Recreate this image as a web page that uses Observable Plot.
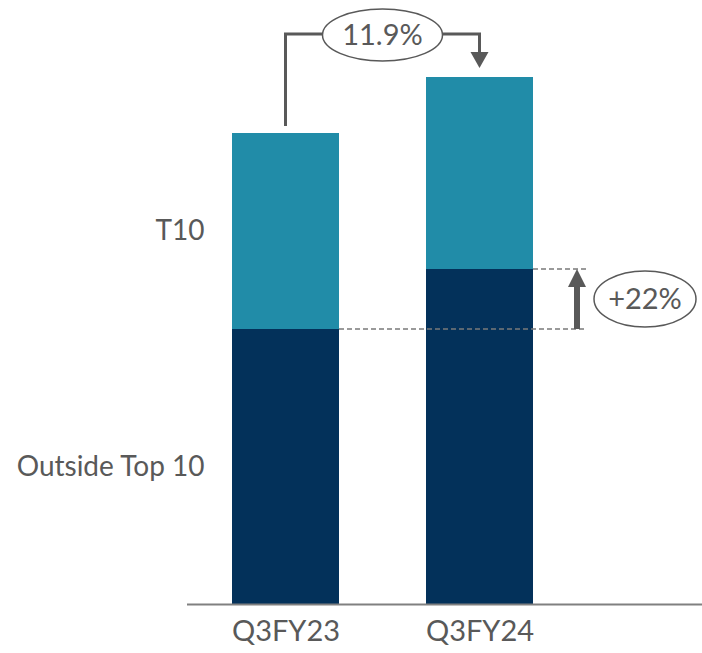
<!DOCTYPE html>
<html>
<head>
<meta charset="utf-8">
<script src="https://cdn.jsdelivr.net/npm/d3@7"></script>
<script src="https://cdn.jsdelivr.net/npm/@observablehq/plot@0.6"></script>
<style>
  html, body { margin: 0; padding: 0; background: #fff; }
  #chart svg { display: block; }
</style>
</head>
<body>
<div id="chart"></div>
<script>
// ---- data (relative units) ----
const periods = ["Q3FY23", "Q3FY24"];
const segments = ["Outside Top 10", "T10"];
const outsideTop10 = [275, 335];
const t10 = [196, 192];
const totalGrowthLabel = "11.9%";
const outsideGrowthLabel = "+22%";

const rows = [];
periods.forEach((p, i) => {
  rows.push({period: p, segment: segments[0], value: outsideTop10[i]});
  rows.push({period: p, segment: segments[1], value: t10[i]});
});
const totals = periods.map((p, i) => outsideTop10[i] + t10[i]);

const textColor = "#595959";
const fontFamily = "Lato, 'Open Sans', sans-serif";

const labelRows = [
  {segment: segments[1], y: outsideTop10[0] + t10[0] / 2},
  {segment: segments[0], y: outsideTop10[0] / 2}
];

const plot = Plot.plot({
  width: 702,
  height: 653,
  marginLeft: 187,
  marginRight: 0,
  marginTop: 0,
  marginBottom: 49,
  style: {fontFamily, color: textColor, background: "#fff"},
  x: {domain: periods, range: [231, 534], paddingInner: 0.446, paddingOuter: 0},
  y: {domain: [0, 604], axis: null},
  color: {domain: segments, range: ["#03315A", "#218CA8"]},
  marks: [
    Plot.barY(rows, {x: "period", y: "value", fill: "segment", order: segments, inset: 0}),
    Plot.ruleY([0], {stroke: "#808080", strokeWidth: 2}),
    Plot.text(labelRows, {y: "y", text: "segment", frameAnchor: "left", textAnchor: "end", dx: 17, fontSize: 28, fill: textColor}),
    Plot.axisX({tickSize: 0, tickPadding: 16, fontSize: 29, fill: textColor, label: null})
  ]
});

document.getElementById("chart").appendChild(plot);

// ---- annotations derived from the chart scales ----
const xs = plot.scale("x");
const ys = plot.scale("y");
const bw = xs.bandwidth;
const svg = d3.select(plot);
const xc = periods.map(p => xs.apply(p) + bw / 2);
const xr = periods.map(p => xs.apply(p) + bw);
const yTop = totals.map(v => ys.apply(v));
const yDark = outsideTop10.map(v => ys.apply(v));

const g = svg.append("g");
// dashed guides
const dashEnd = xr[1] + 53;
g.append("line").attr("x1", xr[0]).attr("x2", dashEnd).attr("y1", yDark[0]).attr("y2", yDark[0])
  .attr("stroke", "#7a7a7a").attr("stroke-width", 1.5).attr("stroke-dasharray", "5,3");
g.append("line").attr("x1", xr[1]).attr("x2", dashEnd).attr("y1", yDark[1]).attr("y2", yDark[1])
  .attr("stroke", "#7a7a7a").attr("stroke-width", 1.5).attr("stroke-dasharray", "5,3");

// total growth connector
const yH = yTop[1] - 43;
const ecx = (xc[0] + xc[1]) / 2, ecy = yH + 1, erx = 60, ery = 26;
g.append("path")
  .attr("d", `M${xc[0]},${yTop[0] - 7}V${yH}H${ecx - erx}`)
  .attr("fill", "none").attr("stroke", textColor).attr("stroke-width", 3);
g.append("path")
  .attr("d", `M${ecx + erx},${yH}H${xc[1]}V${yTop[1] - 24}`)
  .attr("fill", "none").attr("stroke", textColor).attr("stroke-width", 3);
g.append("path")
  .attr("d", `M${xc[1] - 9},${yTop[1] - 25}L${xc[1] + 9},${yTop[1] - 25}L${xc[1]},${yTop[1] - 9}Z`)
  .attr("fill", textColor);
g.append("ellipse").attr("cx", ecx).attr("cy", ecy).attr("rx", erx).attr("ry", ery)
  .attr("fill", "#fff").attr("stroke", textColor).attr("stroke-width", 1.5);
g.append("text").attr("x", ecx).attr("y", ecy).attr("dy", "0.35em").attr("text-anchor", "middle")
  .attr("font-family", fontFamily).attr("font-size", 29).attr("fill", textColor).text(totalGrowthLabel);

// outside top 10 growth arrow
const ax = xr[1] + 44;
g.append("rect").attr("x", ax - 3).attr("y", yDark[1] + 14).attr("width", 6).attr("height", yDark[0] - yDark[1] - 14)
  .attr("fill", textColor);
g.append("path")
  .attr("d", `M${ax - 9},${yDark[1] + 18}L${ax + 9},${yDark[1] + 18}L${ax},${yDark[1]}Z`)
  .attr("fill", textColor);
const e2x = xr[1] + 112, e2y = (yDark[0] + yDark[1]) / 2;
g.append("ellipse").attr("cx", e2x).attr("cy", e2y).attr("rx", 51).attr("ry", 28)
  .attr("fill", "#fff").attr("stroke", textColor).attr("stroke-width", 1.5);
g.append("text").attr("x", e2x).attr("y", e2y).attr("dy", "0.35em").attr("text-anchor", "middle")
  .attr("font-family", fontFamily).attr("font-size", 29).attr("fill", textColor).text(outsideGrowthLabel);
</script>
</body>
</html>
